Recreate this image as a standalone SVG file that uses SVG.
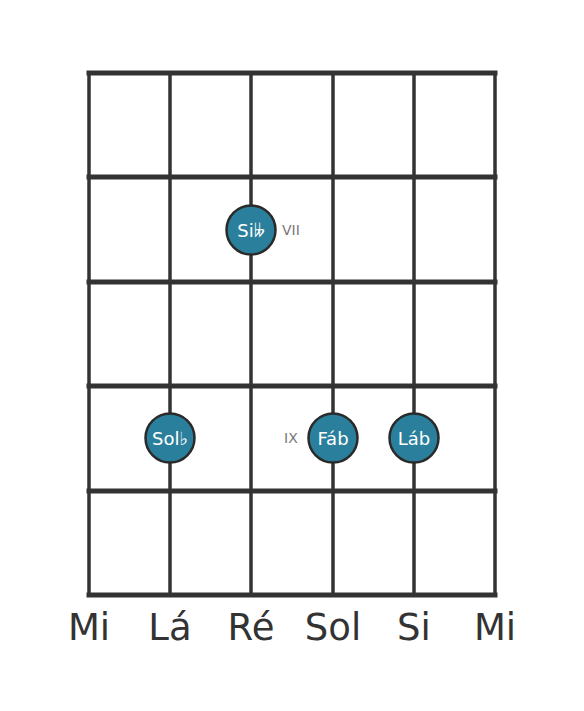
<svg xmlns="http://www.w3.org/2000/svg" width="584" height="711" viewBox="0 0 584 711">
<style>
.fret{stroke:#333;stroke-width:5;stroke-linecap:square}
.str{stroke:#333;stroke-width:3.5}
.dot{fill:#2a809c;stroke:#2a2a2a;stroke-width:2.5}
.nl{font-family:"DejaVu Sans",sans-serif;font-size:18px;fill:#fff;text-anchor:middle;dominant-baseline:central}
.iv{font-family:"DejaVu Sans",sans-serif;font-size:14px;fill:#777;dominant-baseline:central}
.sn{font-family:"DejaVu Sans",sans-serif;font-size:37px;fill:#333;text-anchor:middle}
</style>
<rect width="584" height="711" fill="#fff"/>
<g id="grid">
<line class="str" x1="89" y1="73" x2="89" y2="595"/>
<line class="str" x1="170" y1="73" x2="170" y2="595"/>
<line class="str" x1="251" y1="73" x2="251" y2="595"/>
<line class="str" x1="333" y1="73" x2="333" y2="595"/>
<line class="str" x1="414" y1="73" x2="414" y2="595"/>
<line class="str" x1="495" y1="73" x2="495" y2="595"/>
<line class="fret" x1="89" y1="73" x2="495" y2="73"/>
<line class="fret" x1="89" y1="177" x2="495" y2="177"/>
<line class="fret" x1="89" y1="282" x2="495" y2="282"/>
<line class="fret" x1="89" y1="386" x2="495" y2="386"/>
<line class="fret" x1="89" y1="491" x2="495" y2="491"/>
<line class="fret" x1="89" y1="595" x2="495" y2="595"/>
</g>
<g id="n-si">
<circle class="dot" cx="251" cy="230" r="24.5"/>
<text class="nl" x="251" y="230">Si𝄫</text>
<text class="iv" x="282" y="230">VII</text>
</g>
<g id="n-sol">
<circle class="dot" cx="170" cy="438" r="24.5"/>
<text class="nl" x="170" y="438">Sol♭</text>
</g>
<g id="n-fa">
<circle class="dot" cx="333" cy="438" r="24.5"/>
<text class="nl" x="333" y="438">Fáb</text>
<text class="iv" x="284" y="438">IX</text>
</g>
<g id="n-la">
<circle class="dot" cx="414" cy="438" r="24.5"/>
<text class="nl" x="414" y="438">Láb</text>
</g>
<g id="strings">
<text class="sn" x="89" y="640">Mi</text>
<text class="sn" x="170" y="640">Lá</text>
<text class="sn" x="251" y="640">Ré</text>
<text class="sn" x="333" y="640">Sol</text>
<text class="sn" x="414" y="640">Si</text>
<text class="sn" x="495" y="640">Mi</text>
</g>
</svg>
